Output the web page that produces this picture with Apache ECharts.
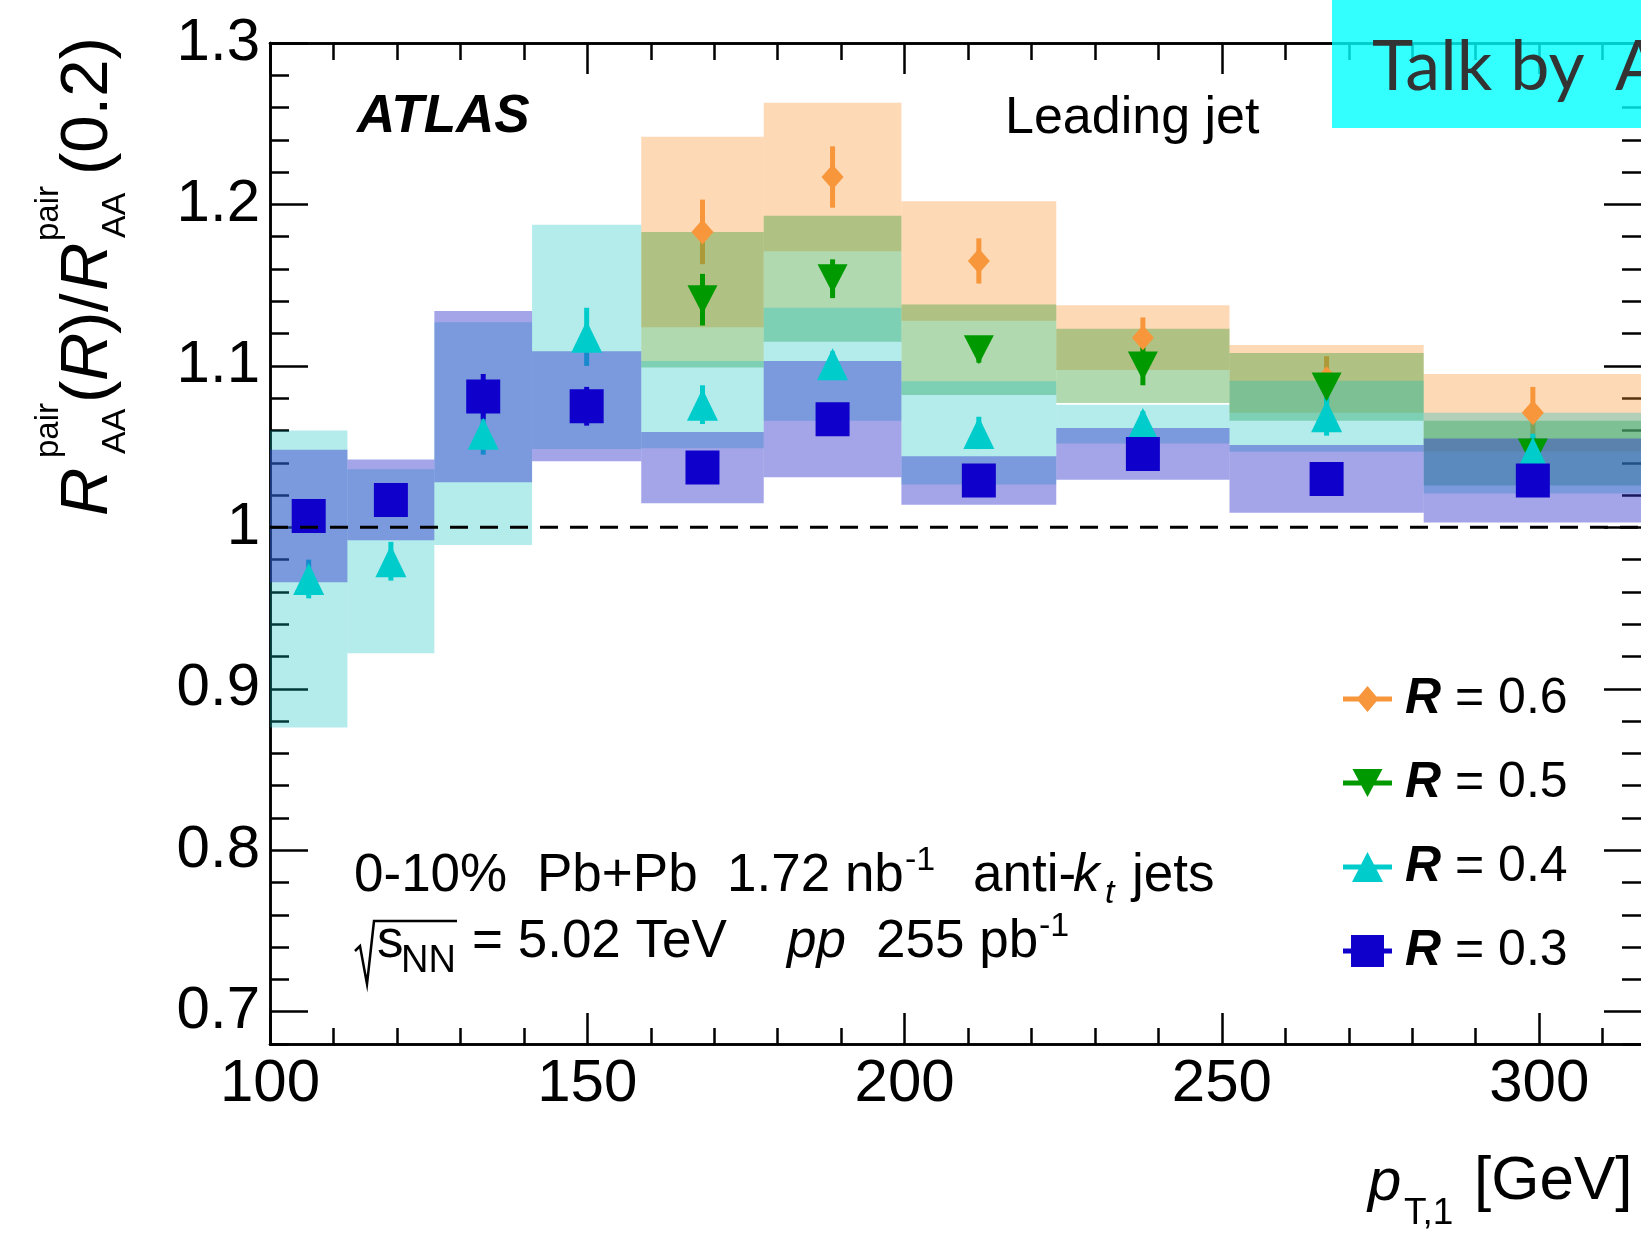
<!DOCTYPE html>
<html>
<head>
<meta charset="utf-8">
<script src="https://cdn.jsdelivr.net/npm/echarts@6/dist/echarts.min.js"></script>
<style>
  html, body { margin: 0; padding: 0; background: #fff; }
  #chart { width: 1641px; height: 1241px; }
</style>
</head>
<body>
<div id="chart"></div>
<script>
// pT bin edges [GeV]
const binEdges = [100, 112.2, 125.9, 141.3, 158.5, 177.8, 199.5, 223.9, 251.2, 281.8, 316.2];

// R = 0.6
const r06Val  = [null, null, null, null, 1.183, 1.217, 1.165, 1.1175, 1.092, 1.071];
const r06Stat = [null, null, null, null, 0.020, 0.019, 0.014, 0.0125, 0.014, 0.016];
const r06Sys  = [null, null, null, null, 0.059, 0.046, 0.037, 0.020, 0.021, 0.024];
// R = 0.5
const r05Val  = [null, null, null, null, 1.141, 1.154, 1.110, 1.100, 1.087, 1.046];
const r05Stat = [null, null, null, null, 0.016, 0.012, 0.008, 0.012, 0.010, 0.010];
const r05Sys  = [null, null, null, null, 0.042, 0.039, 0.028, 0.023, 0.021, 0.020];
// R = 0.4
const r04Val  = [0.968, 0.979, 1.058, 1.118, 1.076, 1.101, 1.0585, 1.064, 1.0688, 1.046];
const r04Stat = [0.012, 0.012, 0.013, 0.018, 0.012, 0.008, 0.010, 0.008, 0.012, 0.012];
const r04Sys  = [0.092, 0.057, 0.069, 0.0695, 0.027, 0.035, 0.032, 0.012, 0.022, 0.025];
// R = 0.3
const r03Val  = [1.007, 1.017, 1.081, 1.075, 1.037, 1.067, 1.029, 1.0455, 1.030, 1.029];
const r03Stat = [0.008, 0.006, 0.014, 0.012, 0.006, 0.006, 0.005, 0.006, 0.006, 0.006];
const r03Sys  = [0.041, 0.025, 0.053, 0.034, 0.022, 0.036, 0.015, 0.016, 0.021, 0.026];

const xMajor = [100, 150, 200, 250, 300];
const yMajor = [0.7, 0.8, 0.9, 1.0, 1.1, 1.2, 1.3];
const refValue = 1;

const fontFam = '"Liberation Sans", Arial, Helvetica, sans-serif';

// minor ticks: every 10 GeV, every 0.02
const xMinor = [];
for (let v = 110; v <= 316; v += 10) if (v % 50 !== 0) xMinor.push(v);
const yMinor = [];
for (let k = 34; k <= 65; k++) if (k % 5 !== 0) yMinor.push(+(k * 0.02).toFixed(2));

const chart = echarts.init(document.getElementById('chart'));

function boxSeries(vals, sys, color) {
  const data = [];
  vals.forEach((v, i) => {
    if (v != null) data.push([binEdges[i], binEdges[i + 1], v - sys[i], v + sys[i]]);
  });
  return {
    type: 'custom', silent: true, data: data,
    encode: { x: [0, 1], y: [2, 3] },
    renderItem: (params, api) => {
      const p0 = api.coord([api.value(0), api.value(3)]);
      const p1 = api.coord([api.value(1), api.value(2)]);
      return { type: 'rect', shape: { x: p0[0], y: p0[1], width: p1[0] - p0[0], height: p1[1] - p0[1] },
        style: { fill: color } };
    }
  };
}

function errSeries(vals, stat, color) {
  const data = [];
  vals.forEach((v, i) => {
    if (v != null) data.push([(binEdges[i] + binEdges[i + 1]) / 2, v - stat[i], v + stat[i]]);
  });
  return {
    type: 'custom', silent: true, data: data,
    encode: { x: 0, y: [1, 2] },
    renderItem: (params, api) => {
      const a = api.coord([api.value(0), api.value(1)]);
      const b = api.coord([api.value(0), api.value(2)]);
      return { type: 'line', shape: { x1: a[0], y1: a[1], x2: b[0], y2: b[1] },
        style: { stroke: color, lineWidth: 5 } };
    }
  };
}

function markSeries(name, vals, color, symbol, size, rotate) {
  const data = [];
  vals.forEach((v, i) => {
    if (v != null) data.push([(binEdges[i] + binEdges[i + 1]) / 2, v]);
  });
  return {
    type: 'scatter', name: name, silent: true, data: data,
    symbol: symbol, symbolSize: size, symbolRotate: rotate || 0,
    itemStyle: { color: color, opacity: 1 }
  };
}

function xAx(pos, ticks, len, labels) {
  return {
    type: 'value', position: pos, min: 100, max: 316.2,
    axisLine: { show: true, onZero: false, lineStyle: { color: '#000', width: 2.5 } },
    axisTick: { show: true, inside: true, length: len, customValues: ticks, lineStyle: { color: '#000', width: 2.5 } },
    axisLabel: labels ? { show: true, customValues: ticks, fontSize: 60, fontFamily: fontFam, color: '#000', margin: 10 } : { show: false },
    splitLine: { show: false }
  };
}

function yAx(pos, ticks, len, labels) {
  return {
    type: 'value', position: pos, min: 0.68, max: 1.3,
    axisLine: { show: true, onZero: false, lineStyle: { color: '#000', width: 2.5 } },
    axisTick: { show: true, inside: true, length: len, customValues: ticks, lineStyle: { color: '#000', width: 2.5 } },
    axisLabel: labels ? { show: true, customValues: ticks, fontSize: 60, fontFamily: fontFam, color: '#000', margin: 10,
      formatter: v => String(+(+v).toFixed(1)) } : { show: false },
    splitLine: { show: false }
  };
}

function txt(str, x, base, size, extra) {
  return {
    type: 'text', x: x, y: base - 0.35 * size, silent: true, z: 50,
    style: Object.assign({ text: str, fontSize: size, fontFamily: fontFam, fill: '#000',
      align: 'left', verticalAlign: 'middle' }, extra || {})
  };
}
const it = { fontStyle: 'italic' };

const colOrange = '#f7963a', colGreen = '#009a00', colCyan = '#00cccc', colBlue = '#1000cc';

const option = {
  animation: false,
  backgroundColor: '#fff',
  grid: { left: 270, top: 43, right: -1, height: 1001, containLabel: false, outerBoundsMode: 'none' },
  xAxis: [
    xAx('bottom', xMajor, 31, true),
    xAx('bottom', xMinor, 16, false),
    xAx('top', xMajor, 31, false),
    xAx('top', xMinor, 17, false)
  ],
  yAxis: [
    yAx('left', yMajor, 38, true),
    yAx('left', yMinor, 19, false),
    yAx('right', yMajor, 38, false),
    yAx('right', yMinor, 20, false)
  ],
  legend: {
    orient: 'vertical', left: 1343, top: 674, padding: 0,
    itemWidth: 49, itemHeight: 34, itemGap: 34,
    selectedMode: false,
    data: [
      { name: 'R = 0.6', icon: 'path://M0,14.5H49V19.5H0Z M24.5,4L35.5,17L24.5,30L13.5,17Z' },
      { name: 'R = 0.5', icon: 'path://M0,14.5H49V19.5H0Z M9.5,3H39.5L24.5,31Z' },
      { name: 'R = 0.4', icon: 'path://M0,14.5H49V19.5H0Z M24.5,2L40,32H9Z' },
      { name: 'R = 0.3', icon: 'path://M0,14.5H49V19.5H0Z M8,1H41V33H8Z' }
    ],
    formatter: name => '{r|R}{t| = ' + name.slice(4) + '}',
    textStyle: {
      padding: [0, 0, 0, 8],
      rich: {
        r: { fontSize: 50, fontFamily: fontFam, fontStyle: 'italic', fontWeight: 'bold', color: '#000', lineHeight: 34 },
        t: { fontSize: 50, fontFamily: fontFam, color: '#000', lineHeight: 34 }
      }
    }
  },
  series: [
    boxSeries(r06Val, r06Sys, 'rgba(250,145,45,0.35)'),
    errSeries(r06Val, r06Stat, colOrange),
    markSeries('R = 0.6', r06Val, colOrange, 'diamond', [22, 25]),
    boxSeries(r05Val, r05Sys, 'rgba(60,160,55,0.4)'),
    errSeries(r05Val, r05Stat, colGreen),
    markSeries('R = 0.5', r05Val, colGreen, 'triangle', [30, 29], 180),
    boxSeries(r04Val, r04Sys, 'rgba(8,188,188,0.3)'),
    errSeries(r04Val, r04Stat, colCyan),
    markSeries('R = 0.4', r04Val, colCyan, 'triangle', [31, 32]),
    boxSeries(r03Val, r03Sys, 'rgba(51,55,204,0.45)'),
    errSeries(r03Val, r03Stat, colBlue),
    markSeries('R = 0.3', r03Val, colBlue, 'rect', [34, 34]),
    {
      type: 'line', silent: true, symbol: 'none',
      data: [[binEdges[0], refValue], [binEdges[binEdges.length - 1], refValue]],
      lineStyle: { color: '#000', width: 3, type: [18, 12] }
    }
  ],
  graphic: [
    // y axis title
    {
      type: 'group', x: 112, y: 516, rotation: Math.PI / 2, silent: true,
      children: [
        txt('R', 0, 0, 67, it),
        txt('pair', 58, -52, 33),
        txt('AA', 62, 16, 34),
        txt('(', 113, 0, 67),
        txt('R', 135, 0, 67, it),
        txt(')', 182, 0, 67),
        txt('/', 204, 0, 67),
        txt('R', 225, 0, 67, it),
        txt('pair', 275, -52, 33),
        txt('AA', 278, 16, 34),
        txt('(0.2)', 341, 0, 67)
      ]
    },
    // x axis title
    txt('p', 1368, 1204, 60, it),
    txt('T,1', 1404, 1227, 37),
    txt('[GeV]', 1474, 1204, 62),
    // labels
    txt('ATLAS', 357, 136, 53, { fontStyle: 'italic', fontWeight: 'bold' }),
    txt('Leading jet', 1005, 137, 52),
    txt('0-10%', 354, 895, 53),
    txt('Pb+Pb', 537, 895, 53),
    txt('1.72 nb', 727, 895, 53),
    txt('-1', 905, 873, 34),
    txt('anti-', 973, 895, 53),
    txt('k', 1073, 895, 53, it),
    txt('t', 1105, 905, 34, it),
    txt('jets', 1132, 895, 53),
    {
      type: 'polyline', silent: true, z: 50,
      shape: { points: [[355, 951], [360, 946], [367, 984], [374, 921], [457, 921]] },
      style: { stroke: '#000', lineWidth: 2.5, fill: null }
    },
    txt('s', 377, 961, 53),
    txt('NN', 401, 975, 38),
    txt('= 5.02 TeV', 472, 961, 53),
    txt('pp', 787, 961, 53, it),
    txt('255 pb', 876, 961, 53),
    txt('-1', 1039, 939, 34),
    // overlay box
    {
      type: 'rect', silent: true, z: 100,
      shape: { x: 1332, y: 0, width: 309, height: 128 },
      style: { fill: 'rgba(0,255,255,0.8)' }
    },
    Object.assign(txt('Talk by', 1372, 92, 70, { fontFamily: 'Lato, "Open Sans", sans-serif', fill: '#333' }), { z: 101 }),
    Object.assign(txt('A', 1615, 92, 70, { fontFamily: 'Lato, "Open Sans", sans-serif', fill: '#333' }), { z: 101 })
  ]
};

chart.setOption(option);
</script>
</body>
</html>
